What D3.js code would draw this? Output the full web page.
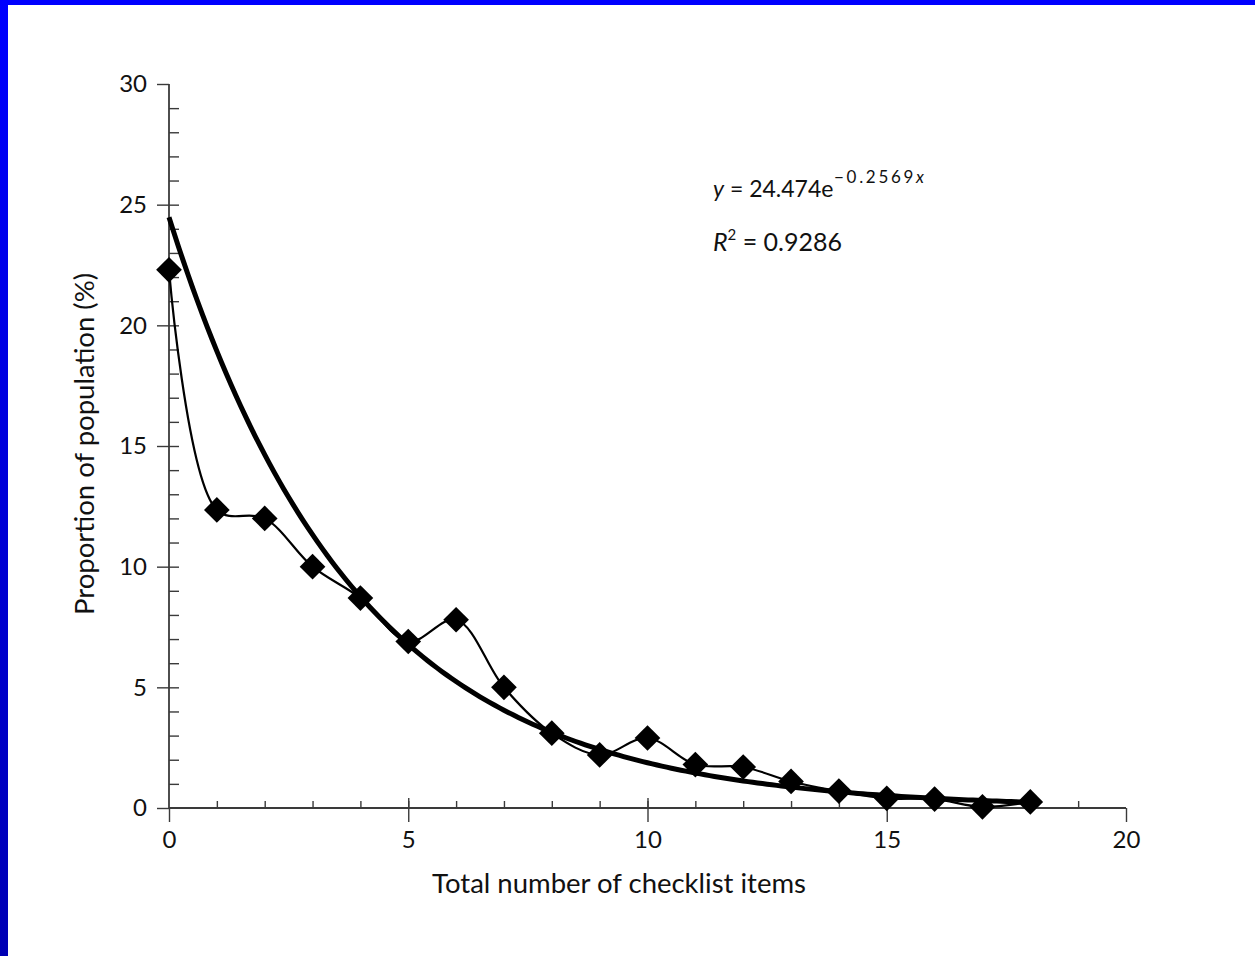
<!DOCTYPE html>
<html>
<head>
<meta charset="utf-8">
<script src="https://cdn.jsdelivr.net/npm/d3@7"></script>
<style>
  html, body { margin: 0; padding: 0; background: #fff; }
  svg { display: block; }
  text { font-family: Lato, "Open Sans", sans-serif; fill: #111; }
</style>
</head>
<body>
<svg id="chart" width="1255" height="956"></svg>
<script>
// Share of the population by total number of checklist items
const items = [0, 1, 2, 3, 4, 5, 6, 7, 8, 9, 10, 11, 12, 13, 14, 15, 16, 17, 18];
const proportion = [22.3, 12.35, 12.0, 10.0, 8.7, 6.9, 7.8, 5.0, 3.1, 2.2, 2.9, 1.8, 1.7, 1.1, 0.7, 0.4, 0.37, 0.05, 0.25];

// Exponential trend line y = a·e^(b·x)
const fitA = 24.474;
const fitB = -0.2569;
const fitR2 = 0.9286;

const xTicks = [0, 5, 10, 15, 20];
const yTicks = [0, 5, 10, 15, 20, 25, 30];

const svg = d3.select("#chart");

// Slide frame: blue bands along the top and left edges
const defs = svg.append("defs");
const grad = defs.append("linearGradient").attr("id", "edge").attr("x1", 0).attr("y1", 0).attr("x2", 0).attr("y2", 1);
grad.append("stop").attr("offset", "0%").attr("stop-color", "#0000ff");
grad.append("stop").attr("offset", "100%").attr("stop-color", "#0000b4");
svg.append("rect").attr("x", 0).attr("y", 0).attr("width", 1255).attr("height", 5).attr("fill", "#0000ff");
svg.append("rect").attr("x", 0).attr("y", 0).attr("width", 8).attr("height", 956).attr("fill", "url(#edge)");

const x = d3.scaleLinear().domain([0, 20]).range([169, 1126]);
const y = d3.scaleLinear().domain([0, 30]).range([808, 84]);

const axisColor = "#3a3a3a";

// Minor ticks: inward on both axes
svg.append("g").attr("transform", `translate(0,${y(0)})`)
  .call(d3.axisTop(x).tickValues(d3.range(1, 20)).tickSize(7).tickSizeOuter(0).tickFormat(""));
svg.append("g").attr("transform", `translate(${x(0)},0)`)
  .call(d3.axisRight(y).tickValues(d3.range(1, 30)).tickSize(10).tickSizeOuter(0).tickFormat(""));

// Major ticks with labels
svg.append("g").attr("transform", `translate(0,${y(0)})`)
  .call(d3.axisBottom(x).tickValues(xTicks).tickSize(14).tickSizeOuter(0).tickPadding(9));
svg.append("g").attr("transform", `translate(${x(0)},0)`)
  .call(d3.axisLeft(y).tickValues(yTicks).tickSize(12).tickSizeOuter(0).tickPadding(10));

// Longer inward marks at the labelled x positions
svg.append("g").attr("transform", `translate(0,${y(0)})`)
  .call(d3.axisTop(x).tickValues([5, 10, 15]).tickSize(10).tickSizeOuter(0).tickFormat(""));

svg.selectAll(".domain").remove();
svg.selectAll(".tick line").attr("stroke", axisColor).attr("stroke-width", 1.4);
svg.selectAll(".tick text").attr("font-size", 24).attr("fill", "#111");

// Axis lines
svg.append("line").attr("x1", x(0)).attr("x2", x(20)).attr("y1", y(0)).attr("y2", y(0))
  .attr("stroke", axisColor).attr("stroke-width", 1.8);
svg.append("line").attr("x1", x(0)).attr("x2", x(0)).attr("y1", y(30)).attr("y2", y(0))
  .attr("stroke", axisColor).attr("stroke-width", 1.8);

// Axis titles
svg.append("text").attr("x", 619).attr("y", 893).attr("text-anchor", "middle")
  .attr("font-size", 27.5).text("Total number of checklist items");
svg.append("text").attr("transform", `translate(94,444) rotate(-90)`).attr("text-anchor", "middle")
  .attr("font-size", 27.5).text("Proportion of population (%)");

// Trend line
const fitPts = d3.range(0, 18.001, 0.1).map(v => [v, fitA * Math.exp(fitB * v)]);
svg.append("path")
  .datum(fitPts)
  .attr("fill", "none").attr("stroke", "#000").attr("stroke-width", 5)
  .attr("d", d3.line().x(d => x(d[0])).y(d => y(d[1])));

// Observed series: smoothed line with diamond markers
const obs = items.map((v, i) => [v, proportion[i]]);
svg.append("path")
  .datum(obs)
  .attr("fill", "none").attr("stroke", "#000").attr("stroke-width", 2.2)
  .attr("d", d3.line().curve(d3.curveCatmullRom.alpha(0.5)).x(d => x(d[0])).y(d => y(d[1])));

const marker = d3.symbol().type(d3.symbolSquare).size(330);
svg.append("g").selectAll("path")
  .data(obs)
  .join("path")
  .attr("d", marker)
  .attr("transform", d => `translate(${x(d[0])},${y(d[1])}) rotate(45)`)
  .attr("fill", "#000");

// Regression equation
const eq = svg.append("text").attr("x", 713).attr("y", 197).attr("font-size", 23);
eq.append("tspan").attr("font-style", "italic").text("y");
eq.append("tspan").text(" = " + fitA + "e");
const sup = svg.append("text").attr("x", 834).attr("y", 183).attr("font-size", 17)
  .attr("textLength", 90).attr("lengthAdjust", "spacing");
sup.append("tspan").text("−" + Math.abs(fitB));
sup.append("tspan").attr("font-style", "italic").text("x");

const r2 = svg.append("text").attr("x", 713).attr("y", 251).attr("font-size", 25);
r2.append("tspan").attr("font-style", "italic").text("R");
r2.append("tspan").attr("font-size", 15).attr("dy", -11).text("2");
r2.append("tspan").attr("dy", 11).text(" = " + fitR2);
</script>
</body>
</html>
